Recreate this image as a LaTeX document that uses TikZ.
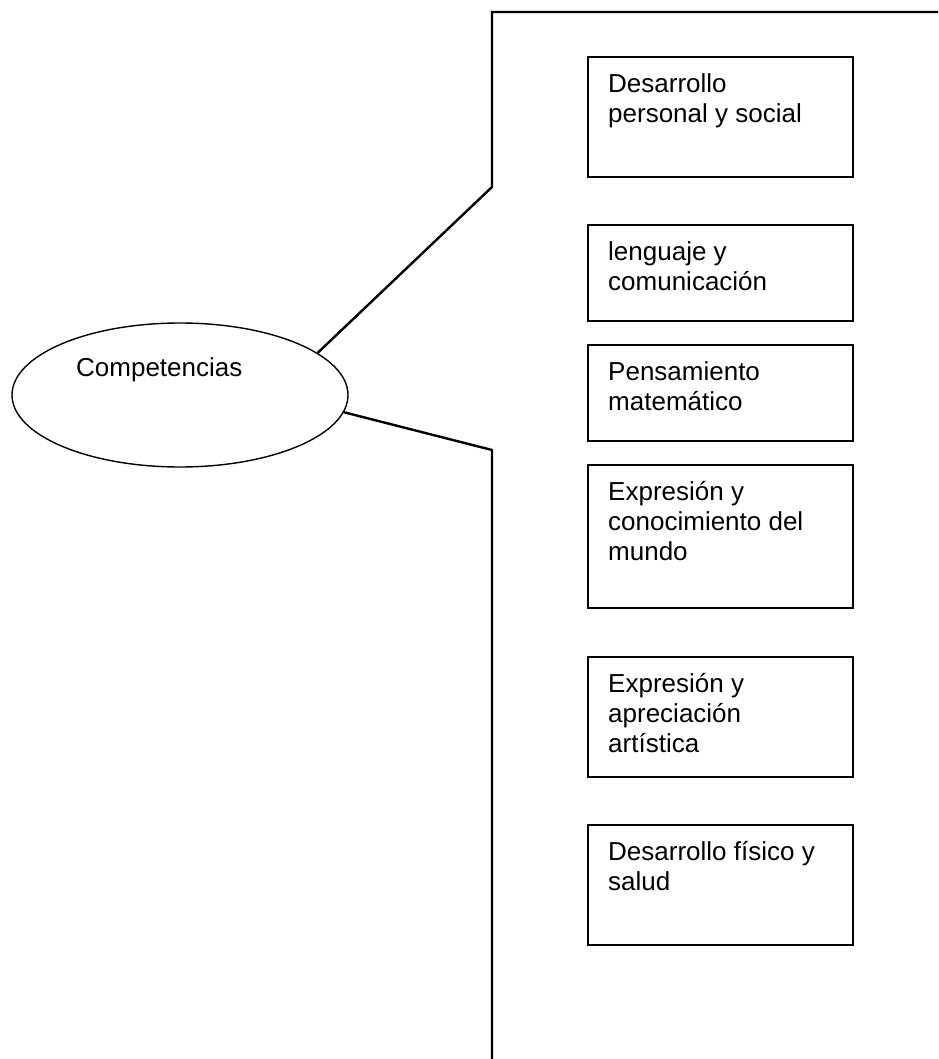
\documentclass[tikz,border=0pt]{standalone}
\usepackage{fontspec}
\setmainfont{Liberation Sans}
\usetikzlibrary{shapes.geometric}
\begin{document}
\begin{tikzpicture}[x=1pt,y=-1pt,
  boxstyle/.style={draw,line width=2.2pt,rectangle,minimum width=265pt,anchor=north west,inner sep=0pt},
  txtstyle/.style={anchor=north west,inner sep=0pt,align=left,font=\fontsize{26}{30}\selectfont},
  conn/.style={line width=2.4pt,line join=miter}]
\useasboundingbox (0,0) rectangle (938,1059);
\node[draw,ellipse,line width=1.4pt,minimum width=336pt,minimum height=144pt,inner sep=0pt] (e) at (180,395) {};
\node[anchor=base west,inner sep=0pt,font=\fontsize{26}{30}\selectfont] (et) at (76,376) {Competencias};

\node[boxstyle,minimum height=120pt] (b1) at (587,56) {};
\node[boxstyle,minimum height=96pt] (b2) at (587,224) {};
\node[boxstyle,minimum height=96pt] (b3) at (587,344) {};
\node[boxstyle,minimum height=143pt] (b4) at (587,464) {};
\node[boxstyle,minimum height=120pt] (b5) at (587,656) {};
\node[boxstyle,minimum height=120pt] (b6) at (587,824) {};

\node[txtstyle] (t1) at ([shift={(21,15)}]b1.north west) {\strut Desarrollo\\personal y social};
\node[txtstyle] (t2) at ([shift={(21,15)}]b2.north west) {\strut lenguaje y\\comunicación};
\node[txtstyle] (t3) at ([shift={(21,15)}]b3.north west) {\strut Pensamiento\\matemático};
\node[txtstyle] (t4) at ([shift={(21,15)}]b4.north west) {\strut Expresión y\\conocimiento del\\mundo};
\node[txtstyle] (t5) at ([shift={(21,15)}]b5.north west) {\strut Expresión y\\apreciación\\artística};
\node[txtstyle] (t6) at ([shift={(21,15)}]b6.north west) {\strut Desarrollo físico y\\salud};

\coordinate (c1) at (492,187);
\coordinate (c2) at (492,12);
\coordinate (c3) at (938,12);
\coordinate (c4) at (492,450);
\coordinate (c5) at (492,1059);
\draw[conn] (e.17) -- (c1) -- (c2) -- (c3);
\draw[conn] (e.-6) -- (c4) -- (c5);
\end{tikzpicture}
\end{document}
